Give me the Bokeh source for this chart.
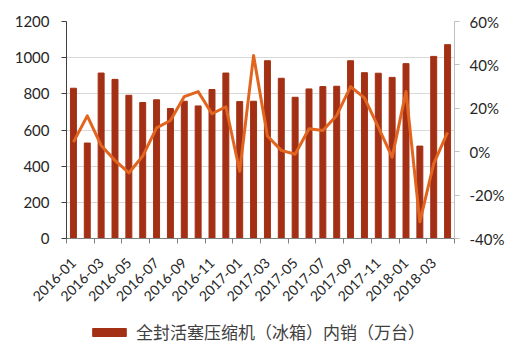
import math
from bokeh.plotting import figure
from bokeh.layouts import column
from bokeh.models import (Range1d, LinearAxis, FixedTicker, PrintfTickFormatter,
                          Legend, LegendItem, ColumnDataSource, Grid)
from bokeh.embed import file_html
from bokeh.resources import INLINE

months = ["2016-01", "2016-02", "2016-03", "2016-04", "2016-05", "2016-06", "2016-07",
          "2016-08", "2016-09", "2016-10", "2016-11", "2016-12", "2017-01", "2017-02",
          "2017-03", "2017-04", "2017-05", "2017-06", "2017-07", "2017-08", "2017-09",
          "2017-10", "2017-11", "2017-12", "2018-01", "2018-02", "2018-03", "2018-04"]
sales = [831, 528, 915, 880, 792, 752, 767, 719, 759, 733, 824, 915, 757, 759,
         983, 886, 781, 827, 840, 842, 983, 917, 914, 891, 967, 511, 1007, 1072]
yoy = [4.4, 16.5, 2.9, -4.0, -9.8, -2.0, 11.0, 14.4, 25.4, 27.7, 17.5, 20.7, -9.0, 44.3,
       7.2, 0.6, -1.2, 10.6, 9.8, 16.7, 30.0, 24.8, 11.3, -2.5, 27.7, -32.3, -5.5, 8.9]
legend_label = "全封活塞压缩机（冰箱）内销（万台）"
left_ticks = [0, 200, 400, 600, 800, 1000, 1200]
right_ticks = [-40, -20, 0, 20, 40, 60]

BAR = "#A33014"
LINE = "#E2651F"
FONT = "Lato"
TXT = "#262626"

xs = list(range(len(months)))
src = ColumnDataSource(dict(x=xs, sales=sales, yoy=yoy))

p = figure(width=520, height=320, output_backend="svg", toolbar_location=None,
           x_range=Range1d(-0.5, len(months) - 0.5), y_range=Range1d(0, 1200),
           x_axis_location=None, y_axis_location=None,
           min_border_left=66, min_border_right=66, min_border_top=21, min_border_bottom=82)
p.outline_line_color = None
p.background_fill_color = "white"
p.extra_y_ranges = {"pct": Range1d(-40, 60)}
p.xgrid.visible = False
p.ygrid.visible = False

# left axis
ly = LinearAxis(ticker=FixedTicker(ticks=left_ticks))
ly.axis_line_color = "#404040"
ly.major_tick_line_color = "#404040"
ly.major_tick_in = 0
ly.major_tick_out = 5
ly.minor_tick_line_color = None
ly.major_label_text_font = FONT
ly.major_label_text_font_size = "15px"
ly.major_label_text_color = TXT
ly.major_label_standoff = 12
p.add_layout(ly, "left")

# right axis
ry = LinearAxis(y_range_name="pct", ticker=FixedTicker(ticks=right_ticks),
                formatter=PrintfTickFormatter(format="%d%%"))
ry.axis_line_color = "#bfbfbf"
ry.major_tick_line_color = "#bfbfbf"
ry.major_tick_in = 0
ry.major_tick_out = 5
ry.minor_tick_line_color = None
ry.major_label_text_font = FONT
ry.major_label_text_font_size = "15px"
ry.major_label_text_color = TXT
ry.major_label_standoff = 10
p.add_layout(ry, "right")

# x axis: labels at odd months, ticks (minor) at boundaries every 2 months
lab_ticks = list(range(0, len(months), 2))
bound_ticks = [i - 0.5 for i in range(0, len(months) + 1, 2)]
lx = LinearAxis(ticker=FixedTicker(ticks=lab_ticks, minor_ticks=bound_ticks),
                major_label_overrides={i: months[i] for i in lab_ticks})
lx.axis_line_color = "#808080"
lx.major_tick_line_color = None
lx.major_tick_in = 0
lx.major_tick_out = 0
lx.minor_tick_line_color = "#808080"
lx.minor_tick_in = 0
lx.minor_tick_out = 5
lx.major_label_orientation = math.pi / 4
lx.major_label_text_font = FONT
lx.major_label_text_font_size = "14px"
lx.major_label_text_color = TXT
lx.major_label_standoff = 17
p.add_layout(lx, "below")

g = Grid(dimension=1, ticker=FixedTicker(ticks=left_ticks))
g.grid_line_color = "#d9d9d9"
g.grid_line_width = 1
p.add_layout(g)

bars = p.vbar(x="x", top="sales", width=0.43, source=src, color=BAR)
p.line(x="x", y="yoy", source=src, y_range_name="pct", line_color=LINE,
       line_width=3, line_join="round")

# legend strip below the chart (its frame aligns with the chart's frame)
leg = figure(width=520, height=32, output_backend="svg", toolbar_location=None,
             x_range=Range1d(-0.5, len(months) - 0.5), y_range=Range1d(5000, 6000),
             x_axis_location=None, y_axis_location=None,
             min_border_left=0, min_border_right=0, min_border_top=0, min_border_bottom=0)
leg.outline_line_color = None
leg.xgrid.visible = False
leg.ygrid.visible = False
proxy = leg.vbar(x="x", top="sales", width=0.43, source=src, color=BAR)

legend = Legend(items=[LegendItem(label=legend_label, renderers=[proxy])],
                location=(22, 8), orientation="horizontal")
legend.border_line_color = None
legend.background_fill_alpha = 0
legend.padding = 0
legend.margin = 0
legend.glyph_width = 42
legend.glyph_height = 10
legend.label_standoff = 6
legend.label_height = 20
legend.label_text_font = "Noto Sans CJK SC"
legend.label_text_font_size = "17px"
legend.label_text_color = "#404040"
leg.add_layout(legend)

layout = column(p, leg, spacing=0)
open("out.html", "w").write(file_html(layout, INLINE))
